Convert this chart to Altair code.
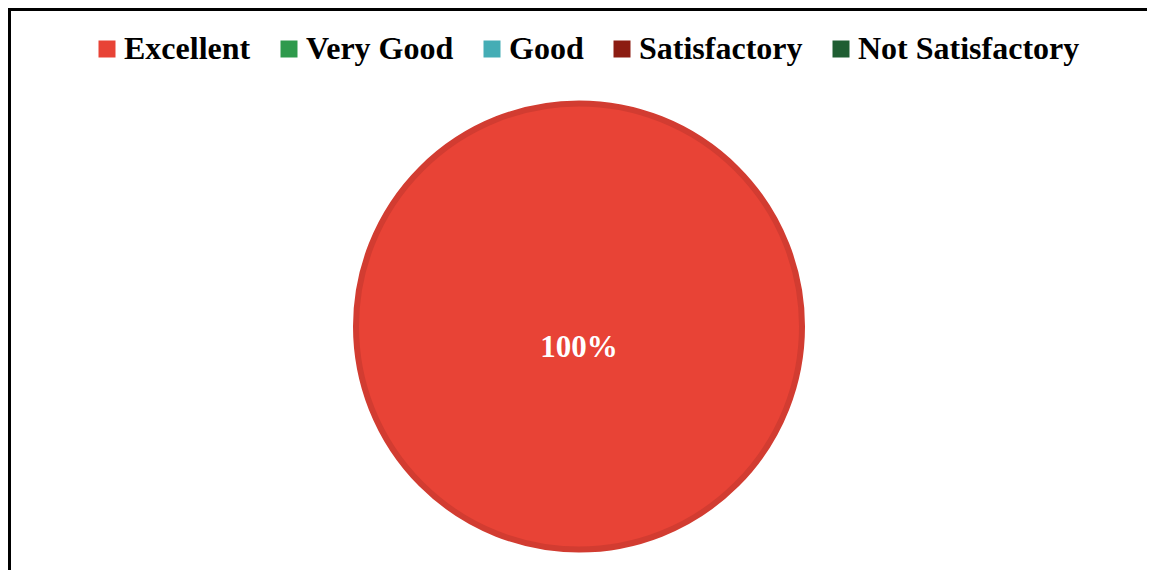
import altair as alt
import pandas as pd

categories = ["Excellent", "Very Good", "Good", "Satisfactory", "Not Satisfactory"]
values = [100, 0, 0, 0, 0]
colors = ["#e84336", "#2e9a4c", "#44adb5", "#8c1c12", "#1f5e32"]

df = pd.DataFrame({"category": categories, "value": values})

W, H = 1136, 477
PAD = {"left": 3, "top": 80, "right": 0, "bottom": 5}

color = alt.Color(
    "category:N",
    scale=alt.Scale(domain=categories, range=colors),
    sort=categories,
    legend=alt.Legend(
        title=None,
        orient="none",
        direction="horizontal",
        columns=5,
        legendX=80,
        legendY=-55,
        symbolType="square",
        symbolSize=289,
        symbolStrokeWidth=0,
        symbolOpacity=1,
        labelFont="Liberation Serif",
        labelFontWeight="bold",
        labelFontSize=32,
        labelColor="#000000",
        labelOffset=1,
        columnPadding=22,
        labelLimit=400,
    ),
)

base = alt.Chart(df)

pie = base.transform_filter(alt.datum.value > 0).mark_arc(
    outerRadius=223, stroke="#d23c31", strokeWidth=6
).encode(
    theta=alt.Theta("value:Q", stack=True),
    color=color,
    order=alt.Order("value:Q"),
)

label = base.transform_filter(alt.datum.value > 0).transform_calculate(
    txt="datum.value + '%'"
).mark_text(
    font="Liberation Serif", fontWeight="bold", fontSize=31, color="white"
).encode(
    theta=alt.Theta("value:Q", stack=True),
    radius=alt.value(21),
    text="txt:N",
)

border_top = base.transform_filter(alt.datum.value > 0).mark_rule(
    color="black", strokeWidth=3
).encode(x=alt.value(-3), x2=alt.value(W), y=alt.value(-78.5))

border_left = base.transform_filter(alt.datum.value > 0).mark_rule(
    color="black", strokeWidth=3
).encode(x=alt.value(-1.5), y=alt.value(-80), y2=alt.value(H + 5))

chart = alt.layer(pie, label, border_top, border_left).properties(
    width=W,
    height=H,
    padding=PAD,
    background="white",
    autosize=alt.AutoSizeParams(type="none"),
).configure_view(strokeOpacity=0, strokeWidth=0)

chart.save("out.html", embed_options={"renderer": "svg", "actions": False})
